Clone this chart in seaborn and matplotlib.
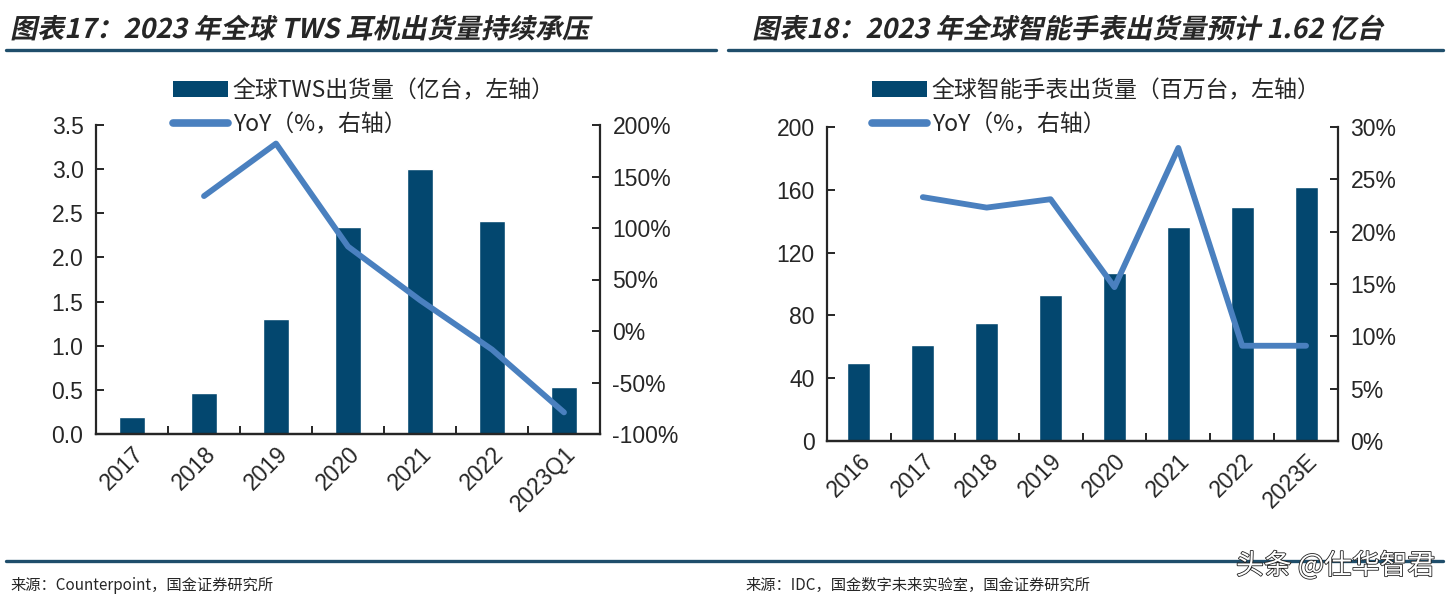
import numpy as np
import pandas as pd
import matplotlib
matplotlib.use('Agg')
import matplotlib.pyplot as plt
import seaborn as sns
from matplotlib.patches import Patch
from matplotlib.lines import Line2D
from matplotlib.ticker import FixedLocator, FuncFormatter, MultipleLocator
from matplotlib.transforms import Affine2D
from matplotlib.patheffects import AbstractPathEffect, withStroke

# ---- data ----
tws_years = ['2017', '2018', '2019', '2020', '2021', '2022', '2023Q1']
tws_ship = [0.19, 0.46, 1.30, 2.34, 3.00, 2.41, 0.53]          # 亿台
tws_yoy = [np.nan, 131, 182, 82, 30, -18, -79]                  # %

watch_years = ['2016', '2017', '2018', '2019', '2020', '2021', '2022', '2023E']
watch_ship = [50, 61, 75, 93, 107, 136, 149, 162]               # 百万台
watch_yoy = [np.nan, 23.3, 22.3, 23.1, 14.7, 28.0, 9.1, 9.1]    # %

title_left = '图表17：2023 年全球 TWS 耳机出货量持续承压'
title_right = '图表18：2023 年全球智能手表出货量预计 1.62 亿台'
legend_left = ['全球TWS出货量（亿台，左轴）', 'YoY（%，右轴）']
legend_right = ['全球智能手表出货量（百万台，左轴）', 'YoY（%，右轴）']
source_left = '来源：Counterpoint，国金证券研究所'
source_right = '来源：IDC，国金数字未来实验室，国金证券研究所'
watermark = '头条 @仕华智君'

BAR = '#03476F'
LINE = '#4A80BF'
RULE = '#1F4E6B'
CJK = ['Noto Sans CJK SC', 'DejaVu Sans']

sns.set_style('ticks')
plt.rcParams['font.family'] = ['Liberation Sans', 'Noto Sans CJK SC', 'DejaVu Sans']
plt.rcParams['axes.linewidth'] = 1.6


class Slant(AbstractPathEffect):
    """fake italic: shear glyphs in text coordinates"""
    def draw_path(self, renderer, gc, tpath, affine, rgbFace=None):
        renderer.draw_path(gc, tpath, Affine2D().skew_deg(12, 0) + affine, rgbFace)


fig = plt.figure(figsize=(14.5, 6.04), dpi=100)
W, H = 1450, 604


def fx(px):
    return px / W


def fy(py):
    return 1 - py / H


def panel(rect, cats, ship, yoy, ylim, ystep, yfmt, rlim, rstep, labels, leg_xy):
    ax = fig.add_axes(rect)
    df = pd.DataFrame({'cat': cats, 'ship': ship, 'yoy': yoy})
    sns.barplot(data=df, x='cat', y='ship', color=BAR, width=0.36,
                saturation=1, ax=ax, zorder=2)
    ax2 = ax.twinx()
    sns.pointplot(data=df, x='cat', y='yoy', color=LINE, marker='',
                  linewidth=4.2, errorbar=None, ax=ax2)

    n = len(cats)
    ax.set_xlim(-0.5, n - 0.5)
    ax.set_ylim(*ylim)
    ax.yaxis.set_major_locator(MultipleLocator(ystep))
    ax.yaxis.set_major_formatter(FuncFormatter(yfmt))
    ax2.set_ylim(*rlim)
    ax2.yaxis.set_major_locator(MultipleLocator(rstep))
    ax2.yaxis.set_major_formatter(FuncFormatter(lambda v, p: f'{v:.0f}%'))
    for a in (ax, ax2):
        a.set_xlabel('')
        a.set_ylabel('')
        a.spines['top'].set_visible(False)
        a.tick_params(axis='y', direction='in', length=6, width=1.4,
                      labelsize=16.5, pad=9)
    ax.spines['right'].set_visible(False)
    ax2.spines['left'].set_visible(False)
    ax.xaxis.set_minor_locator(FixedLocator(np.arange(0.5, n - 1, 1.0)))
    ax.tick_params(axis='x', which='major', length=0, labelsize=16.5, pad=6)
    ax.tick_params(axis='x', which='minor', direction='in', length=6, width=1.4)
    ax.set_xticks(range(n))
    ax.set_xticklabels(cats, rotation=45, ha='right', va='top',
                       rotation_mode='anchor')
    ax2.set_zorder(ax.get_zorder() + 1)

    handles = [Patch(facecolor=BAR, edgecolor='none'),
               Line2D([], [], color=LINE, lw=5.5)]
    fig.legend(handles, labels, loc='upper left',
               bbox_to_anchor=(fx(leg_xy[0]), fy(leg_xy[1])),
               frameon=False, prop={'family': CJK, 'size': 16.5},
               handlelength=2.4, handleheight=0.75, handletextpad=0.2,
               labelspacing=0.5, borderpad=0, borderaxespad=0)
    return ax, ax2


panel([fx(96), fy(434), fx(600) - fx(96), fy(125) - fy(434)],
      tws_years, tws_ship, tws_yoy, (0, 3.5), 0.5, lambda v, p: f'{v:.1f}',
      (-100, 200), 50, legend_left, (173, 79))

panel([fx(827), fy(441), fx(1338) - fx(827), fy(127) - fy(441)],
      watch_years, watch_ship, watch_yoy, (0, 200), 40, lambda v, p: f'{v:.0f}',
      (0, 30), 5, legend_right, (872, 79))

# titles and rules
for x, t in ((10, title_left), (752, title_right)):
    fig.text(fx(x), fy(38), t, family=CJK, weight='bold', size=19.5,
             ha='left', va='baseline', path_effects=[Slant()])
fig.add_artist(Line2D([fx(6), fx(716)], [fy(50), fy(50)], color=RULE, lw=2.4))
fig.add_artist(Line2D([fx(728), fx(1443)], [fy(50), fy(50)], color=RULE, lw=2.4))
fig.add_artist(Line2D([fx(6), fx(1443)], [fy(561), fy(561)], color=RULE, lw=2.4))

fig.text(fx(10), fy(590), source_left, family=CJK, size=11, va='baseline')
fig.text(fx(745), fy(590), source_right, family=CJK, size=11, va='baseline')
fig.text(fx(1236), fy(574), watermark, family=CJK, size=20, color='white',
         va='baseline', path_effects=[withStroke(linewidth=1.2, foreground='#222222')])

fig.savefig('out.png', dpi=100)
